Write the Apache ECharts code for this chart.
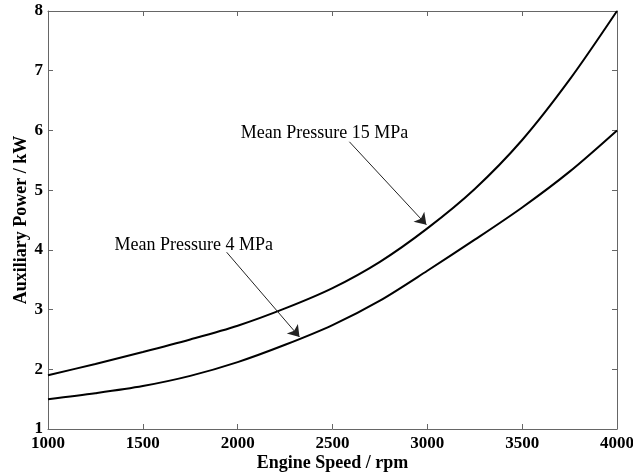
<!DOCTYPE html>
<html>
<head>
<meta charset="utf-8">
<script src="https://cdn.jsdelivr.net/npm/echarts@6/dist/echarts.min.js"></script>
<style>
  html, body { margin: 0; padding: 0; background: #fff; }
  #chart { width: 633px; height: 475px; }
</style>
</head>
<body>
<div id="chart"></div>
<script>
// engine speed (rpm) and auxiliary power (kW)
var speed = [1000, 1250, 1500, 1750, 2000, 2250, 2500, 2750, 3000, 3250, 3500, 3750, 4000];
var power15 = [1.90, 2.09, 2.29, 2.50, 2.73, 3.02, 3.36, 3.80, 4.36, 5.02, 5.84, 6.85, 8.00];
var power4 = [1.50, 1.60, 1.72, 1.89, 2.12, 2.41, 2.74, 3.15, 3.65, 4.17, 4.71, 5.31, 6.00];

var label15 = 'Mean Pressure 15 MPa';
var label4 = 'Mean Pressure 4 MPa';

// annotation anchors in data units: text centre, arrow start, arrow tip
var note15 = { text: [2458, 5.96], from: [2589, 5.81], to: [2995, 4.42] };
var note4 = { text: [1768, 4.08], from: [1942, 3.96], to: [2326, 2.54] };

function pairs(xs, ys) {
  return xs.map(function (x, i) { return [x, ys[i]]; });
}

var serif = 'Liberation Serif';
var axisGray = '#666';

var chart = echarts.init(document.getElementById('chart'));

function arrow(n) {
  return [{ coord: n.from }, { coord: n.to }];
}

function note(n, txt) {
  return {
    coord: n.text,
    symbol: 'circle',
    symbolSize: 0,
    label: {
      show: true,
      position: 'inside',
      formatter: txt,
      fontFamily: serif,
      fontSize: 18,
      color: '#000'
    }
  };
}

function plain(v) { return String(v); }

chart.setOption({
  animation: false,
  grid: { left: 48, right: 16, top: 11, bottom: 46, outerBoundsMode: 'none', containLabel: false },
  xAxis: [{
    type: 'value',
    min: 1000, max: 4000, interval: 500,
    name: 'Engine Speed / rpm',
    nameLocation: 'middle',
    nameGap: 25,
    nameMoveOverlap: false,
    nameTextStyle: { fontFamily: serif, fontWeight: 'bold', fontSize: 18, color: '#000' },
    axisLine: { show: true, lineStyle: { color: axisGray, width: 1 } },
    axisTick: { show: true, inside: true, length: 5, lineStyle: { color: axisGray } },
    axisLabel: { fontFamily: serif, fontWeight: 'bold', fontSize: 17, color: '#000', margin: 6, formatter: plain },
    splitLine: { show: false }
  }, {
    type: 'value', position: 'top',
    min: 1000, max: 4000, interval: 500,
    axisLine: { show: true, lineStyle: { color: axisGray, width: 1 } },
    axisTick: { show: true, inside: true, length: 5, lineStyle: { color: axisGray } },
    axisLabel: { show: false },
    splitLine: { show: false }
  }],
  yAxis: [{
    type: 'value',
    min: 1, max: 8, interval: 1,
    name: 'Auxiliary Power / kW',
    nameLocation: 'middle',
    nameGap: 18,
    nameMoveOverlap: false,
    nameTextStyle: { fontFamily: serif, fontWeight: 'bold', fontSize: 18, color: '#000' },
    axisLine: { show: true, lineStyle: { color: axisGray, width: 1 } },
    axisTick: { show: true, inside: true, length: 5, lineStyle: { color: axisGray } },
    axisLabel: { fontFamily: serif, fontWeight: 'bold', fontSize: 17, color: '#000', margin: 5, formatter: plain },
    splitLine: { show: false }
  }, {
    type: 'value', position: 'right',
    min: 1, max: 8, interval: 1,
    axisLine: { show: true, lineStyle: { color: axisGray, width: 1 } },
    axisTick: { show: true, inside: true, length: 5, lineStyle: { color: axisGray } },
    axisLabel: { show: false },
    splitLine: { show: false }
  }],
  series: [{
    name: label15,
    type: 'line',
    data: pairs(speed, power15),
    smooth: 0.3,
    showSymbol: false,
    lineStyle: { color: '#000', width: 2 },
    markLine: {
      silent: true,
      symbol: ['none', 'arrow'],
      symbolSize: 11,
      label: { show: false },
      lineStyle: { color: '#222', width: 1, type: 'solid' },
      data: [arrow(note15)]
    },
    markPoint: { silent: true, data: [note(note15, label15)] }
  }, {
    name: label4,
    type: 'line',
    data: pairs(speed, power4),
    smooth: 0.3,
    showSymbol: false,
    lineStyle: { color: '#000', width: 2 },
    markLine: {
      silent: true,
      symbol: ['none', 'arrow'],
      symbolSize: 11,
      label: { show: false },
      lineStyle: { color: '#222', width: 1, type: 'solid' },
      data: [arrow(note4)]
    },
    markPoint: { silent: true, data: [note(note4, label4)] }
  }]
});
</script>
</body>
</html>
